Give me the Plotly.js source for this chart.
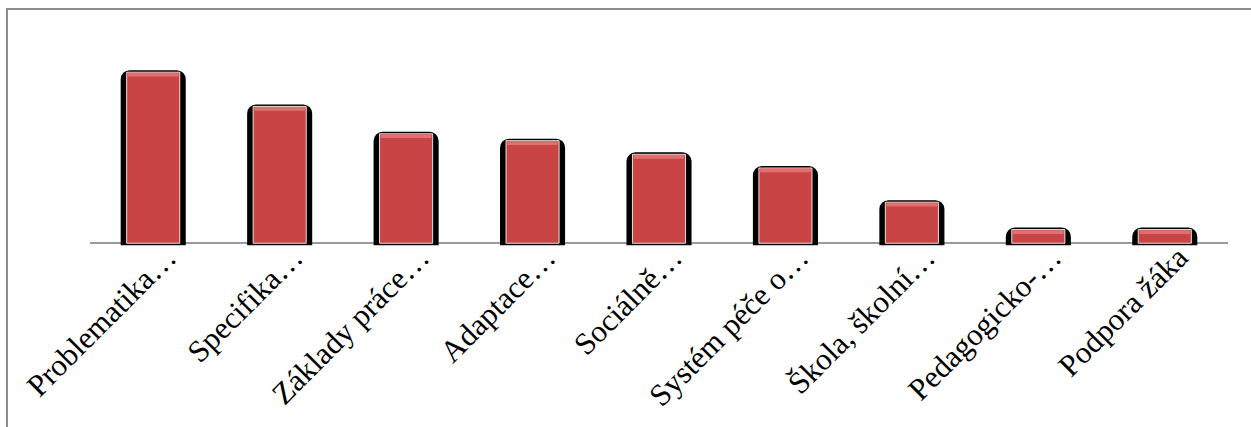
<!DOCTYPE html>
<html>
<head>
<meta charset="utf-8">
<script src="https://cdn.plot.ly/plotly-3.0.1.min.js"></script>
<style>
  html, body { margin: 0; padding: 0; background: #fff; overflow: hidden; }
  #chart { width: 1251px; height: 427px; }
</style>
</head>
<body>
<div id="chart"></div>
<script>
// Data
const categories = [
  "Problematika…",
  "Specifika…",
  "Základy práce…",
  "Adaptace…",
  "Sociálně…",
  "Systém péče o…",
  "Škola, školní…",
  "Pedagogicko-…",
  "Podpora žáka"
];
const values = [25, 20, 16, 15, 13, 11, 6, 2, 2];

const FONT = "Liberation Serif";
const BEVEL = 0.55;

const shadowTrace = {
  type: "bar",
  x: categories,
  y: values,
  width: 0.483,
  offset: -0.2415,
  marker: {
    color: "#000000",
    line: { color: "#000000", width: 4 },
    cornerradius: 7
  },
  hoverinfo: "skip",
  showlegend: false
};

const barTrace = {
  type: "bar",
  x: categories,
  y: values,
  width: 0.42,
  offset: -0.21,
  marker: {
    color: "#C94444",
    line: { color: "rgba(255,255,255,0.85)", width: 1 }
  },
  hoverinfo: "skip",
  showlegend: false
};

// lighter top bevel of each bar (same values, drawn as a thin band at the top)
const bevelTrace = {
  type: "bar",
  x: categories,
  y: values.map(() => BEVEL),
  base: values.map(v => v - BEVEL - 0.08),
  width: 0.40,
  offset: -0.20,
  marker: { color: "#E07070", line: { width: 0 } },
  hoverinfo: "skip",
  showlegend: false
};

const layout = {
  width: 1251,
  height: 427,
  margin: { l: 90, r: 23, t: 38, b: 181, pad: 0 },
  paper_bgcolor: "#ffffff",
  plot_bgcolor: "#ffffff",
  barmode: "overlay",
  showlegend: false,
  font: { family: FONT, color: "#000000" },
  xaxis: {
    type: "category",
    showline: false,
    showgrid: false,
    zeroline: false,
    ticks: "",
    tickangle: -45,
    ticklabelstandoff: -14,
    ticklabelshift: 14,
    tickfont: { family: FONT, size: 31, color: "#000000" },
    automargin: false
  },
  yaxis: {
    range: [-0.4, 30],
    showgrid: false,
    showline: false,
    showticklabels: false,
    ticks: "",
    zeroline: true,
    zerolinecolor: "#9a9a9a",
    zerolinewidth: 2,
    automargin: false
  },
  shapes: [{
    type: "rect",
    xref: "paper", yref: "paper",
    x0: -0.07293, x1: 1.1,
    y0: -1.0, y1: 1.1394,
    line: { color: "#8c8c8c", width: 2 },
    fillcolor: "rgba(0,0,0,0)",
    layer: "above"
  }]
};

Plotly.newPlot("chart", [shadowTrace, barTrace, bevelTrace], layout, { staticPlot: true, displayModeBar: false });
</script>
</body>
</html>
